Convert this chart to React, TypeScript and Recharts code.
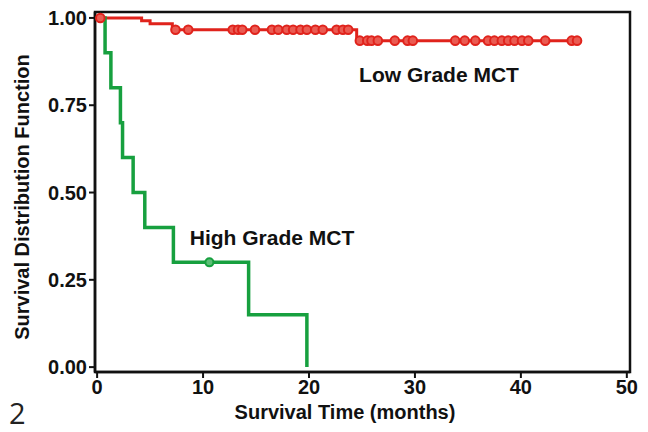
import React from "react";
import { ComposedChart, Line, XAxis, YAxis, ReferenceArea } from "recharts";

// Kaplan-Meier steps (months, survival)
const highTimes = [0, 0.75, 1.3, 2.2, 2.4, 3.4, 4.5, 7.2, 14.3, 19.8];
const highSurv = [1.0, 0.9, 0.8, 0.7, 0.6, 0.5, 0.4, 0.3, 0.15, 0];
const highCensored = [10.6];

const lowTimes = [0, 4.2, 5.0, 7.1, 24.5, 45.3];
const lowSurv = [1.0, 0.992, 0.983, 0.966, 0.935, 0.935];
const lowCensored = [
  0.3, 7.4, 8.6, 12.8, 13.3, 13.7, 14.9, 16.5, 17.1, 17.9, 18.5, 19.2, 19.8,
  20.6, 21.3, 22.6, 23.2, 23.7, 24.8, 25.5, 25.9, 26.5, 28.1, 29.3, 29.8, 33.8,
  34.7, 35.7, 36.9, 37.5, 38.2, 38.8, 39.4, 40.1, 40.7, 42.3, 44.8, 45.3,
];

const xTicks = [0, 10, 20, 30, 40, 50];
const yTicks = [0, 0.25, 0.5, 0.75, 1.0];
const xDomain = [-0.2, 50.3];
const yDomain = [-0.014, 1.017];

const RED = "#e0231c";
const GREEN = "#17a03f";
const FONT = "'Liberation Sans', Arial, sans-serif";

function steps(times: number[], surv: number[]) {
  return times.map((t, i) => ({ t, s: surv[i] }));
}

function survAt(times: number[], surv: number[], t: number) {
  let s = surv[0];
  times.forEach((tt, i) => {
    if (tt <= t) s = surv[i];
  });
  return s;
}

function marks(censored: number[], times: number[], surv: number[]) {
  return censored.map((t) => ({ t, s: survAt(times, surv, t) }));
}

const tickStyle = { fontSize: 20, fontWeight: 700, fill: "#111", fontFamily: FONT };

export default function App() {
  return (
    <div style={{ position: "absolute", left: 0, top: 0, width: 648, height: 432, background: "#fff" }}>
      <ComposedChart
        width={648}
        height={432}
        margin={{ top: 12, right: 18, bottom: 0, left: 0 }}
      >
        <XAxis
          type="number"
          dataKey="t"
          domain={xDomain}
          allowDataOverflow
          ticks={xTicks}
          interval={0}
          height={60}
          tickSize={6}
          tickMargin={2}
          tick={tickStyle}
          axisLine={{ stroke: "#111", strokeWidth: 2.5 }}
          tickLine={{ stroke: "#111", strokeWidth: 2 }}
        />
        <YAxis
          type="number"
          domain={yDomain}
          allowDataOverflow
          ticks={yTicks}
          interval={0}
          width={95}
          tickSize={6}
          tickMargin={2}
          tickFormatter={(v: number) => v.toFixed(2)}
          tick={tickStyle}
          axisLine={{ stroke: "#111", strokeWidth: 2.5 }}
          tickLine={{ stroke: "#111", strokeWidth: 2 }}
        />
        {/* plot frame */}
        <ReferenceArea
          x1={xDomain[0]}
          x2={xDomain[1]}
          y1={yDomain[0]}
          y2={yDomain[1]}
          fill="none"
          fillOpacity={0}
          stroke="#111"
          strokeWidth={2.5}
          ifOverflow="visible"
        />
        <Line
          data={steps(lowTimes, lowSurv)}
          dataKey="s"
          type="stepAfter"
          stroke={RED}
          strokeWidth={3}
          dot={false}
          isAnimationActive={false}
        />
        <Line
          data={marks(lowCensored, lowTimes, lowSurv)}
          dataKey="s"
          stroke="none"
          dot={{ r: 4.3, stroke: RED, strokeWidth: 2, fill: "#ea5b52" }}
          isAnimationActive={false}
        />
        <Line
          data={steps(highTimes, highSurv)}
          dataKey="s"
          type="stepAfter"
          stroke={GREEN}
          strokeWidth={3.5}
          dot={false}
          isAnimationActive={false}
        />
        <Line
          data={marks(highCensored, highTimes, highSurv)}
          dataKey="s"
          stroke="none"
          dot={{ r: 4, stroke: GREEN, strokeWidth: 2, fill: "#5cbf76" }}
          isAnimationActive={false}
        />
        <text x={439} y={82} textAnchor="middle" fontFamily={FONT} fontWeight={700} fontSize={21} fill="#111">
          Low Grade MCT
        </text>
        <text x={272} y={245} textAnchor="middle" fontFamily={FONT} fontWeight={700} fontSize={21} fill="#111">
          High Grade MCT
        </text>
        <text x={345} y={419} textAnchor="middle" fontFamily={FONT} fontWeight={700} fontSize={20} fill="#111">
          Survival Time (months)
        </text>
        <text
          x={0}
          y={0}
          transform="translate(29,197) rotate(-90)"
          textAnchor="middle"
          fontFamily={FONT}
          fontWeight={700}
          fontSize={20}
          fill="#111"
        >
          Survival Distribution Function
        </text>
        <text x={9} y={424} fontFamily="'Open Sans', 'Noto Sans', sans-serif" fontSize={29} fill="#222">
          2
        </text>
      </ComposedChart>
    </div>
  );
}
